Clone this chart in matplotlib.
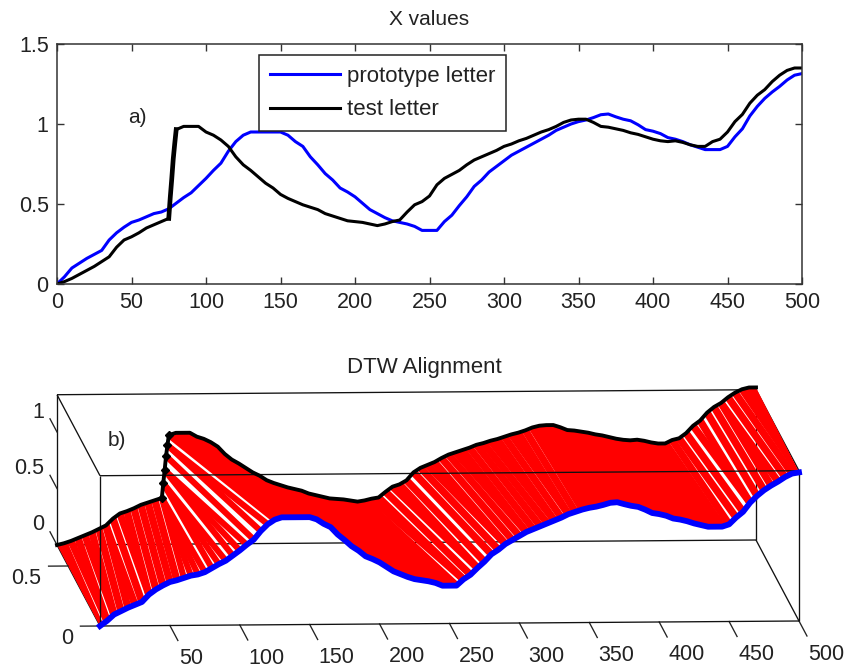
#!/usr/bin/env python
import numpy as np
import matplotlib
matplotlib.use("Agg")
import matplotlib.pyplot as plt
from matplotlib.patches import Polygon

plt.rcParams['font.family'] = ['Liberation Sans', 'DejaVu Sans']

# values
proto_x = np.arange(0, 505, 5)
proto_z = np.array([
    0, .045, .10, .13, .16, .185, .21, .275, .32, .355,
    .385, .40, .42, .44, .45, .47, .505, .54, .57, .615,
    .66, .71, .755, .83, .89, .93, .95, .95, .95, .95,
    .95, .93, .89, .86, .795, .745, .69, .65, .60, .575,
    .545, .505, .465, .44, .415, .395, .385, .375, .36, .335,
    .335, .335, .39, .43, .49, .545, .61, .65, .70, .735,
    .77, .805, .83, .855, .88, .905, .93, .96, .98, 1.0,
    1.015, 1.025, 1.04, 1.058, 1.0625, 1.045, 1.03, 1.02, .995, .965,
    .955, .94, .915, .905, .89, .87, .855, .84, .84, .84,
    .86, .92, .97, 1.05, 1.11, 1.16, 1.20, 1.235, 1.275, 1.305,
    1.315])

test_x = np.sort(np.r_[proto_x, 76, 77, 78, 79])
test_z = np.array([
    0, .015, .035, .06, .085, .11, .14, .17, .23, .275,
    .295, .32, .35, .37, .39, .41, .54, .655, .78, .876,
    .965, .985, .985, .985, .95, .93, .90, .86, .795, .745,
    .71, .67, .63, .60, .56, .535, .515, .495, .48, .465,
    .44, .425, .41, .395, .39, .385, .375, .365, .375, .39,
    .40, .45, .495, .515, .55, .62, .66, .685, .71, .745,
    .775, .795, .815, .835, .86, .875, .895, .91, .93, .95,
    .965, .985, 1.01, 1.025, 1.03, 1.03, 1.01, .985, .98, .97,
    .96, .945, .935, .92, .905, .895, .89, .895, .885, .87,
    .86, .86, .89, .905, .95, 1.015, 1.06, 1.13, 1.18, 1.215,
    1.265, 1.305, 1.335, 1.35, 1.35])

x_ticks = [0, 50, 100, 150, 200, 250, 300, 350, 400, 450, 500]
z_ticks_top = [0, 0.5, 1, 1.5]
z_ticks_3d = [0, 0.5, 1]
y_ticks_3d = [0, 0.5]
y_max = 0.675
z_max = 1.33
x_max = 500
jump = [15, 16, 17, 18, 19, 20]  # test samples on the steep rise


def dtw_path(a, b):
    n, m = len(a), len(b)
    d = np.full((n + 1, m + 1), np.inf)
    d[0, 0] = 0
    for i in range(n):
        for j in range(m):
            d[i + 1, j + 1] = abs(a[i] - b[j]) + min(d[i, j], d[i, j + 1], d[i + 1, j])
    i, j = n, m
    path = [(n - 1, m - 1)]
    while i > 1 or j > 1:
        k = np.argmin([d[i - 1, j - 1], d[i - 1, j], d[i, j - 1]])
        if k == 0:
            i, j = i - 1, j - 1
        elif k == 1:
            i -= 1
        else:
            j -= 1
        path.append((i - 1, j - 1))
    return path


def project(x, y, z):
    # oblique view of the box, in figure pixels
    px = 100 + 1.398 * x - 43 / y_max * y
    py = 626 - 0.01 * x - 81 / y_max * y - 113 * np.asarray(z)
    return px, py


fig = plt.figure(figsize=(8.5, 6.71), dpi=100)

# a) top panel
ax = fig.add_axes([57 / 850, 1 - 284 / 671, 745 / 850, 240 / 671])
ax.plot(proto_x, proto_z, color='#0000ff', lw=2.2, label='prototype letter')
ax.plot(test_x, test_z, color='black', lw=2.2, label='test letter')
ax.plot(test_x[jump], test_z[jump], color='black', lw=3.4)
ax.set_xlim(0, 500)
ax.set_ylim(0, 1.5)
ax.set_xticks(x_ticks)
ax.set_yticks(z_ticks_top)
ax.set_yticklabels(['0', '0.5', '1', '1.5'])
ax.tick_params(direction='in', top=True, right=True, length=5, width=1, color='#333333',
               labelsize=15.5, labelcolor='#222222', pad=6)
for s in ax.spines.values():
    s.set_color('#333333')
    s.set_linewidth(1.1)
ax.set_title('X values', fontsize=15, color='#222222', pad=14)
ax.text(48, 1.04, 'a)', fontsize=15, color='#222222', va='center')
leg = ax.legend(loc='upper left', bbox_to_anchor=(202 / 745, 229 / 240), fontsize=16,
                fancybox=False, framealpha=1, edgecolor='#222222', handlelength=3.15,
                handletextpad=0.3, borderaxespad=0, borderpad=0.5, labelspacing=0.55,
                labelcolor='#222222')
leg.get_frame().set_linewidth(1.1)

# b) bottom panel, drawn in figure pixels through project()
ax3 = fig.add_axes([0, 0, 1, 1])
ax3.set_xlim(0, 850)
ax3.set_ylim(671, 0)
ax3.axis('off')
ax3.patch.set_alpha(0)


def edge(p, q, zorder):
    xs, ys = project(np.array([p[0], q[0]]), np.array([p[1], q[1]]), np.array([p[2], q[2]]))
    ax3.plot(xs, ys, color='#111111', lw=0.95, zorder=zorder, solid_capstyle='butt')


# hidden edges go under the red lines
edge((0, y_max, 0), (x_max, y_max, 0), 1)
edge((x_max, y_max, 0), (x_max, y_max, z_max), 1)
edge((0, y_max, z_max), (x_max, y_max, z_max), 1)
edge((0, y_max, 0), (0, y_max, z_max), 1)
edge((0, 0, 0), (0, y_max, 0), 1)
edge((x_max, 0, 0), (x_max, y_max, 0), 1)
edge((x_max, 0, z_max), (x_max, y_max, z_max), 1)
edge((0, 0, z_max), (0, y_max, z_max), 1)

# red lines stay inside the band between the two curves
bx, by = project(proto_x, np.zeros(len(proto_x)), proto_z)
tx, ty = project(test_x, np.full(len(test_x), y_max), test_z)
band = Polygon(np.c_[np.r_[bx, tx[::-1]], np.r_[by, ty[::-1]]], transform=ax3.transData,
               fc='none', ec='none')
ax3.add_patch(band)

for i, j in dtw_path(proto_z, test_z):
    xs, ys = project(np.array([proto_x[i], test_x[j]]), np.array([0, y_max]),
                     np.array([proto_z[i], test_z[j]]))
    # thinner lines on the rise keep the white streaks of the fan open
    if j in jump:
        width = 4.4
    elif test_x[j] < 75 or 215 < test_x[j] < 345 or test_x[j] > 435:
        width = 5.3
    else:
        width = 6.0
    line, = ax3.plot(xs, ys, color='#ff0000', lw=width, zorder=2, solid_capstyle='butt')
    line.set_clip_path(band)

edge((0, 0, 0), (x_max, 0, 0), 3)
edge((0, 0, 0), (0, 0, z_max), 3)
edge((0, 0, z_max), (x_max, 0, z_max), 3)
edge((x_max, 0, 0), (x_max, 0, z_max), 3)

ax3.plot(bx, by, color='#0000ff', lw=4.2, zorder=4)
ax3.plot(tx, ty, color='black', lw=2.8, zorder=5)
ax3.plot(tx[jump], ty[jump], color='black', lw=1.5, zorder=5, marker='D', ms=4, ls='-')

for x in x_ticks[1:]:
    xs, ys = project(np.array([x, x]), np.array([0, -0.125]), np.array([0, 0]))
    ax3.plot(xs, ys, color='#222222', lw=0.95)
    ax3.text(xs[0] + 9, ys[0] + 33, str(x), fontsize=15.5, color='#222222', ha='left', va='center')
for z in z_ticks_3d:
    xs, ys = project(np.array([0, 0]), np.array([y_max, y_max + 0.11]), np.array([z, z]))
    ax3.plot(xs, ys, color='#222222', lw=0.95)
    ax3.text(xs[0] - 13, ys[0] - 20, '%g' % z, fontsize=15.5, color='#222222', ha='right', va='center')
for y, lab in zip(y_ticks_3d, ['0', '0.5']):
    xs, ys = project(np.array([0, -14]), np.array([y, y]), np.array([0, 0]))
    ax3.plot(xs, ys, color='#222222', lw=0.95)
    ax3.text(xs[0] - 27, ys[0] + 12, lab, fontsize=15.5, color='#222222', ha='right', va='center')

ax3.text(424, 367, 'DTW Alignment', fontsize=16, color='#222222', ha='center', va='center')
ax3.text(108, 441, 'b)', fontsize=15, color='#222222', va='center')

fig.savefig('out.png', dpi=100)
